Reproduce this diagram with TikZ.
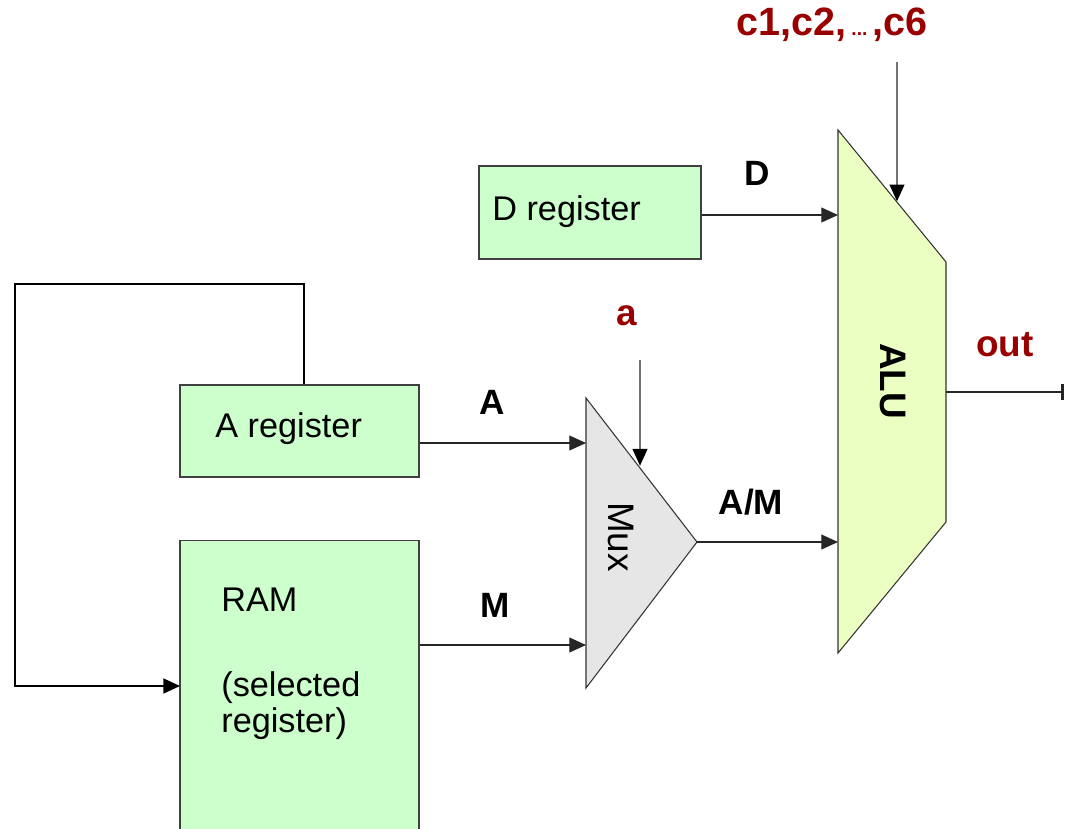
\documentclass[tikz,border=0pt]{standalone}
\usepackage{fontspec}
\setmainfont{Liberation Sans}
\usetikzlibrary{arrows.meta, positioning, calc}
\definecolor{regfill}{HTML}{CCFFCC}
\definecolor{muxfill}{HTML}{E6E6E6}
\definecolor{alufill}{HTML}{ECFFC2}
\definecolor{ctrlred}{HTML}{990000}

\begin{document}
\begin{tikzpicture}[x=0.02cm, y=-0.02cm, >={Triangle[length=9.5pt, width=8.5pt]},
    font=\fontsize{19.5}{23}\selectfont,
    reg/.style={draw=black!75, line width=0.6pt, fill=regfill, inner sep=0pt},
    txt/.style={anchor=base west, inner sep=0pt},
    bus/.style={font=\fontsize{20}{24}\selectfont\bfseries, inner sep=0pt},
    ctrl/.style={bus, text=ctrlred},
    wire/.style={draw=black!85, line width=0.6pt},
    cwire/.style={draw=black!55, line width=0.6pt, -{Triangle[length=9.5pt, width=8.5pt, color=black]}}]
  \useasboundingbox (0,0) rectangle (1066,829);

  % registers and memory
  \node[reg, minimum width=4.44cm, minimum height=1.86cm] (dreg) at (590,212.5) {};
  \node[reg, minimum width=4.78cm, minimum height=1.84cm] (areg) at (299.5,431) {};
  \node[reg, minimum width=4.78cm, minimum height=5.9cm] (ram)  at (299.5,687.5) {};
  \node[txt] (dtxt)  at (492,220) {D register};
  \node[txt] (atxt)  at (215,437) {A register};
  \node[txt] (ramtxt) at (221,611) {RAM};
  \node[txt] (seltxt) at (221,696) {(selected};
  \node[txt] (regtxt) at (221,732) {register)};

  % mux
  \draw[wire, draw=black!80, fill=muxfill] (586,398) coordinate (mtop) -- (697,542) coordinate (mout)
    -- (586,688) coordinate (mbot) -- cycle;
  \node[rotate=-90, inner sep=0pt, font=\fontsize{21}{25}\selectfont] (muxtxt) at (621,537) {Mux};
  \coordinate (mina) at (586,443);
  \coordinate (minm) at (586,645);
  \coordinate (msel) at ($(mtop)!0.47!(mout)$);

  % alu
  \draw[wire, draw=black!80, fill=alufill] (838,130) coordinate (atop) -- (946,262) coordinate (aup)
    -- (946,522) -- (838,653) -- cycle;
  \node[rotate=-90, bus, font=\fontsize{21}{25}\selectfont\bfseries] (alutxt) at (893,381) {ALU};
  \coordinate (alud) at (838,215);
  \coordinate (alum) at (838,542);
  \coordinate (aluc) at ($(atop)!0.54!(aup)$);
  \coordinate (aluout) at (946,392);

  % wires
  \draw[wire, ->] (dreg.east |- alud) -- (alud);
  \draw[wire, ->] (areg.east |- mina) -- (mina);
  \draw[wire, ->] (ram.east |- minm) -- (minm);
  \draw[wire, ->] (mout) -- (alum);
  \coordinate (loop) at (15,284);
  \coordinate (ramin) at (180,686);
  \draw[wire, line width=1.1pt, draw=black, ->] ($(areg.north)+(4.5,0)$) |- (loop) |- (ramin);

  % bus labels
  \node[bus] (dlab) at (757,173) {D};
  \node[bus] (alab) at (492,402) {A};
  \node[bus] (mlab) at (495,605) {M};
  \node[bus] (amlab) at (751,502) {A/M};

  % control inputs
  \node[ctrl, font=\fontsize{22.5}{26}\selectfont\bfseries] (clab) at (832,25)
    {c1,c2,{\fontsize{11}{12}\selectfont\ ...\ },c6};
  \coordinate (ctop) at (897,62);
  \draw[cwire] (ctop) -- (ctop |- aluc);
  \node[ctrl, font=\fontsize{21}{25}\selectfont\bfseries] (selab) at (627,316) {a};
  \coordinate (stop) at (640,360);
  \draw[cwire] (stop) -- (stop |- msel);
  \node[ctrl, font=\fontsize{21}{25}\selectfont\bfseries] (outlab) at (1005,345) {out};
  \coordinate (outend) at (1064,392);
  \draw[wire, -{Bar[width=9pt, line width=1.5pt]}] (aluout) -- (outend);
\end{tikzpicture}
\end{document}
